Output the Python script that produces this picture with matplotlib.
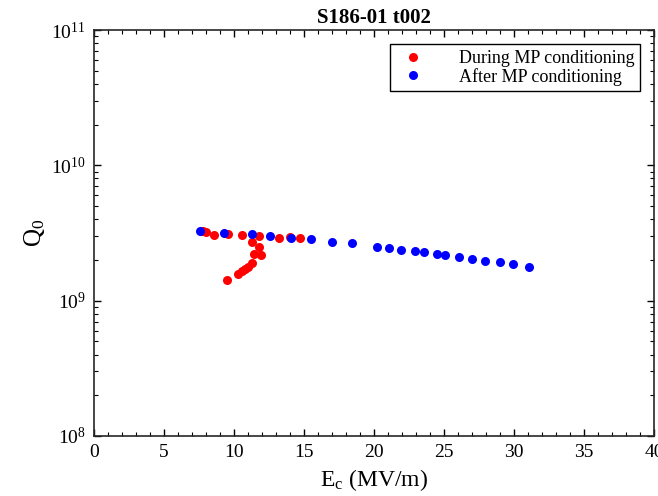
"""
Q0 vs Ec for S186-01 t002, during and after MP conditioning.
"""
import matplotlib
matplotlib.use('Agg')
import matplotlib.pyplot as plt
from matplotlib.ticker import MultipleLocator, LogLocator, NullFormatter

# During multipacting conditioning
ec_during = [7.8, 8.0, 8.6, 9.6, 10.6, 11.8, 13.2, 14.0, 14.7,
             11.3, 11.8, 11.4, 11.9, 11.3, 11.0, 10.8, 10.55, 10.25, 9.5]
q0_during = [3.25e9, 3.2e9, 3.07e9, 3.12e9, 3.05e9, 3.0e9, 2.92e9, 2.94e9, 2.88e9,
             2.7e9, 2.5e9, 2.2e9, 2.19e9, 1.89e9, 1.78e9, 1.71e9, 1.66e9, 1.57e9, 1.42e9]

# After multipacting conditioning
ec_after = [7.6, 9.3, 11.3, 12.6, 14.1, 15.5, 17.0, 18.4, 20.2, 21.1, 21.9,
            22.9, 23.6, 24.5, 25.1, 26.1, 27.0, 27.9, 29.0, 29.9, 31.1]
q0_after = [3.25e9, 3.18e9, 3.09e9, 3.02e9, 2.92e9, 2.84e9, 2.72e9, 2.65e9, 2.5e9,
            2.45e9, 2.37e9, 2.33e9, 2.29e9, 2.22e9, 2.18e9, 2.11e9, 2.04e9, 1.97e9,
            1.92e9, 1.87e9, 1.78e9]

plt.rcParams['font.family'] = 'Liberation Serif'
plt.rcParams['mathtext.fontset'] = 'custom'
plt.rcParams['mathtext.rm'] = 'Liberation Serif'
plt.rcParams['mathtext.it'] = 'Liberation Serif:italic'

fig = plt.figure(figsize=(6.58, 4.96), dpi=100)
ax = fig.add_axes([0.143, 0.121, 0.851, 0.8185])

ax.plot(ec_during, q0_during, 'o', color='#ff0000', ms=6.5, mec='none',
        label='During MP conditioning')
ax.plot(ec_after, q0_after, 'o', color='#0000ff', ms=6.5, mec='none',
        label='After MP conditioning')

ax.set_yscale('log')
ax.set_xlim(0, 40)
ax.set_ylim(1e8, 1e11)
ax.xaxis.set_major_locator(MultipleLocator(5))
ax.xaxis.set_minor_locator(MultipleLocator(1))
ax.yaxis.set_major_locator(LogLocator(base=10))
ax.yaxis.set_minor_locator(LogLocator(base=10, subs=range(2, 10)))
ax.yaxis.set_minor_formatter(NullFormatter())
ax.tick_params(which='both', direction='in', top=True, right=True, labelsize=14)
ax.tick_params(which='major', length=5, width=1, pad=6)
ax.tick_params(which='minor', length=3, width=0.8)
for s in ax.spines.values():
    s.set_linewidth(1.2)
    s.set_color('#262626')

ax.set_xlabel(r'E$_\mathregular{c}$ (MV/m)', fontsize=17, labelpad=4)
ax.set_ylabel(r'Q$_\mathregular{0}$', fontsize=18, labelpad=3)
ax.set_title('S186-01 t002', fontsize=15, fontweight='bold', pad=5)

leg = ax.legend(loc='upper right', fontsize=13, frameon=True, fancybox=False,
                edgecolor='black', framealpha=1, borderaxespad=0.8,
                handletextpad=1.5, borderpad=0.3, labelspacing=0.05,
                handlelength=2.0)
leg.get_frame().set_linewidth(1.0)

fig.savefig('out.png', dpi=100)
